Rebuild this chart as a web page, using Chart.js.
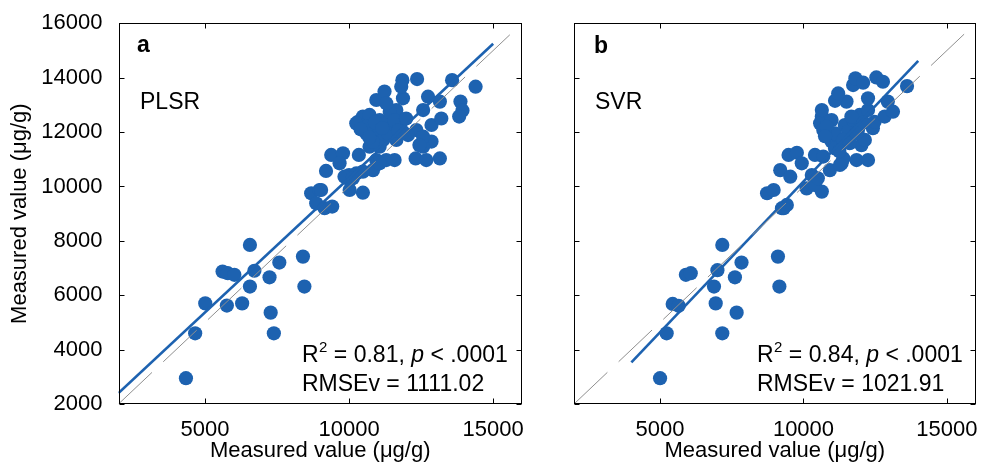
<!DOCTYPE html>
<html><head><meta charset="utf-8">
<script src="https://cdn.jsdelivr.net/npm/chart.js@4/dist/chart.umd.min.js"></script>
<style>
html,body{margin:0;padding:0;background:#fff;overflow:hidden;width:983px;height:466px}
canvas{position:absolute;top:0}
#ca{left:0}
#cb{left:545px}
</style></head><body>
<canvas id="ca" width="545" height="466"></canvas>
<canvas id="cb" width="438" height="466"></canvas>
<script>
// ---- data ----
const xTicks = [5000, 10000, 15000];
const yTicks = [2000, 4000, 6000, 8000, 10000, 12000, 14000, 16000];
const axisMin = 2000, axisMax = 16000;

const plsrX = [4340,4660,5010,5760,6290,5610,5790,6020,6560,6715,6560,7240,7580,7280,7390,8400,8450,8685,8975,8860,9150,9415,9200,9380,9790,9670,10000,10020,10480,10340,10250,10830,10945,11290,11580,10310,10480,10710,10830,11060,11290,10945,11180,11520,11760,11640,10945,11230,11870,11850,11810,12360,12740,13150,12570,12860,13200,12335,12045,11640,12860,12570,12310,12680,13150,13575,14390,13865,13935,13820,12570,11870,10600,10710,10020,9840,11060,10250,10540,11410,11580,11290,11980,10600,12440,10480,10130,11060,10830,9030,10400,10900,11350,11700,10700,11150];
const plsrY = [2950,4600,5700,5620,5700,6870,6810,6750,7850,6900,6320,6660,7200,5360,4600,7420,6320,9750,9870,9380,9200,9260,10570,11160,11220,10850,10420,9870,9770,11160,10480,10600,10970,10970,10970,12380,12570,12630,12200,12440,12320,11950,11710,12200,12440,12810,13180,13490,13240,13910,13670,13950,13300,13120,12810,12260,12500,12075,11890,11710,11650,11460,11030,10970,11030,13910,13670,13120,12790,12570,11830,12010,11950,11460,10240,10360,10850,12320,12080,12750,12440,13060,12500,12200,11520,10545,10300,11460,11640,9870,12100,12350,11950,12050,11800,12150];

const svrX = [5000,5230,5440,5650,6940,5900,6070,7170,7000,6880,7610,7840,7670,7170,9110,9160,8730,8960,9250,9420,9190,9480,9770,9940,9540,10290,10400,10690,10920,11330,11390,11270,11850,12250,12020,10110,10640,10400,10980,11100,12140,10640,10580,10690,10980,11100,11440,11560,12420,12480,11730,11960,12250,12830,13120,12940,12250,11500,11100,11210,11730,11810,12080,12540,12770,13610,10640,11380,11610,9310,11670,11900,10800,10750,11250,11850,12100,10500];
const svrY = [2950,4600,5680,5610,5700,6750,6810,7850,6920,6320,6660,7200,5360,4600,7420,6320,9750,9870,9200,9320,10600,11160,11240,10850,10360,10420,11160,11100,10600,10850,11030,10790,10970,10970,11520,9930,9810,10050,11650,11400,11710,12570,12320,12080,12440,11950,12260,12020,12140,12380,12440,12630,12810,12570,12750,13120,13240,13120,13150,13420,13730,13975,13815,14010,13850,13690,12810,11710,11590,9200,12570,12080,12200,11850,11300,11950,12350,10300];

const plsrFitX = [2000, 15000], plsrFitY = [2400, 15250];
const svrFitX = [4000, 14000],  svrFitY = [3530, 14620];
const refX = [2000, 15600], refY = [2000, 15600];

const FONT = '"Liberation Sans", Arial, Helvetica, sans-serif';
const BLUE = '#1d62b0';
Chart.defaults.font.family = FONT;
Chart.defaults.color = '#000';

function pts(xs, ys){ return xs.map((x,i)=>({x:x, y:ys[i]})); }

const framePlugin = {
  id: 'frame',
  afterDraw(chart){
    const {ctx, chartArea:a, scales:{x, y}} = chart;
    ctx.save();
    ctx.strokeStyle = '#000';
    ctx.lineWidth = 1;
    const L = Math.round(a.left)+0.5, R = Math.round(a.right)-0.5, T = Math.round(a.top)+0.5, B = Math.round(a.bottom)-0.5;
    ctx.strokeRect(L, T, R-L, B-T);
    const tl = 5;
    ctx.beginPath();
    xTicks.forEach(v=>{
      const px = Math.round(x.getPixelForValue(v))+0.5;
      ctx.moveTo(px, B); ctx.lineTo(px, B-tl);
      ctx.moveTo(px, T); ctx.lineTo(px, T+tl);
    });
    yTicks.forEach(v=>{
      const py = Math.round(y.getPixelForValue(v))+0.5;
      ctx.moveTo(L, py); ctx.lineTo(L+tl, py);
      ctx.moveTo(R, py); ctx.lineTo(R-tl, py);
    });
    ctx.stroke();
    // annotations
    const o = chart.options.plugins.frame;
    ctx.fillStyle = '#000';
    ctx.textBaseline = 'alphabetic';
    ctx.textAlign = 'left';
    ctx.font = 'bold 23px ' + FONT;
    ctx.fillText(o.letter, o.lx, o.ly);
    ctx.font = '23px ' + FONT;
    ctx.fillText(o.method, o.mx, o.my);
    let cx = o.sx;
    const b1 = o.sy;
    ctx.font = '23px ' + FONT;
    ctx.fillText('R', cx, b1); cx += ctx.measureText('R').width;
    ctx.font = '15px ' + FONT;
    ctx.fillText('2', cx+0.5, b1-10); cx += ctx.measureText('2').width + 0.5;
    ctx.font = '23px ' + FONT;
    const s1 = ' = ' + o.r2 + ', ';
    ctx.fillText(s1, cx, b1); cx += ctx.measureText(s1).width;
    ctx.font = 'italic 23px ' + FONT;
    ctx.fillText('p', cx, b1); cx += ctx.measureText('p').width;
    ctx.font = '23px ' + FONT;
    ctx.fillText(' < .0001', cx, b1);
    ctx.fillText('RMSEv = ' + o.rmse, o.sx, b1 + 29);
    ctx.restore();
  }
};

function makeChart(id, xs, ys, fx, fy, showY, yWidth, padRight, ann){
  return new Chart(document.getElementById(id), {
    type: 'scatter',
    data: { datasets: [
      { data: pts(xs, ys), backgroundColor: BLUE, borderWidth: 0, pointRadius: 7.1, order: 3 },
      { type:'line', data: pts(fx, fy), borderColor: BLUE, borderWidth: 2.6, pointRadius: 0, fill:false, order: 2 },
      { type:'line', data: pts(refX, refY), borderColor: '#8f8f8f', borderWidth: 1, borderDash:[46,15.5], pointRadius: 0, fill:false, order: 1 }
    ]},
    options: {
      responsive: false, animation: false, events: [],
      layout: { padding: { left: 0, right: padRight, top: 23.3, bottom: 0 } },
      plugins: { legend:{display:false}, tooltip:{enabled:false}, frame: ann },
      scales: {
        x: {
          type:'linear', min: axisMin, max: axisMax,
          grid:{display:false}, border:{display:false},
          afterBuildTicks: s => { s.ticks = xTicks.map(v=>({value:v})); },
          afterFit: s => { s.height = 62; },
          ticks: { autoSkip:false, maxRotation:0, padding: 5, font:{size:22}, color:'#000', callback: v => String(v) },
          title: { display:true, text:'Measured value (μg/g)', font:{size:22}, color:'#000', padding:{top:0, bottom:2} }
        },
        y: {
          type:'linear', min: axisMin, max: axisMax,
          grid:{display:false}, border:{display:false},
          afterBuildTicks: s => { s.ticks = yTicks.map(v=>({value:v})); },
          afterFit: s => { s.width = yWidth; },
          ticks: { display: showY, autoSkip:false, padding: 8, font:{size:22}, color:'#000', callback: v => String(v) },
          title: { display: showY, text:'Measured value (μg/g)', font:{size:22}, color:'#000', padding:{top:7, bottom:0} }
        }
      }
    },
    plugins: [framePlugin]
  });
}

makeChart('ca', plsrX, plsrY, plsrFitX, plsrFitY, true, 118.5, 23,
  { letter:'a', lx:137, ly:52, method:'PLSR', mx:140, my:109, sx:302, sy:362, r2:'0.81', rmse:'1111.02' });
makeChart('cb', svrX, svrY, svrFitX, svrFitY, false, 29, 5,
  { letter:'b', lx:49, ly:53, method:'SVR', mx:50, my:109, sx:212, sy:362, r2:'0.84', rmse:'1021.91' });
</script>
</body></html>
